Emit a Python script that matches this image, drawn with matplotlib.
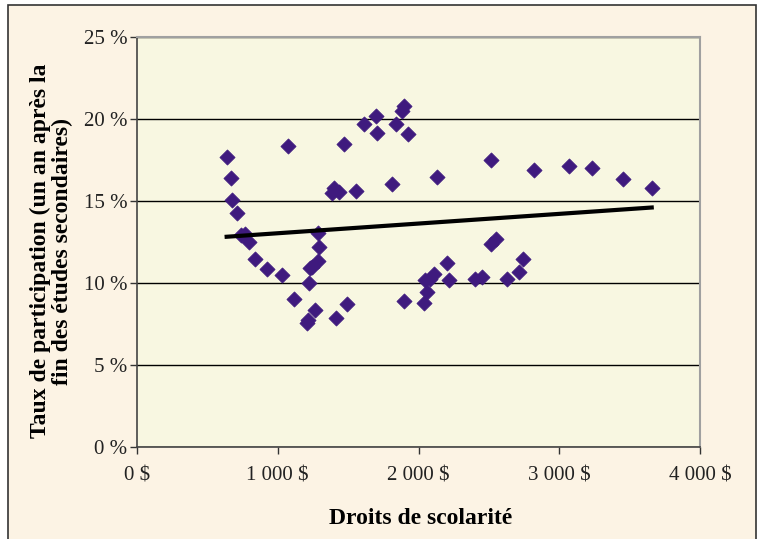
import numpy as np
import matplotlib.pyplot as plt
from matplotlib.patches import Rectangle
from matplotlib.ticker import FuncFormatter

# tuition fees ($) and participation rate (%)
droits = [637, 670, 675, 708, 739, 767, 796, 838, 922, 1028,
          1071, 1118, 1206, 1218, 1223, 1230, 1242, 1266, 1289, 1294,
          1289, 1387, 1401, 1415, 1434, 1474, 1491, 1553, 1610, 1695,
          1705, 1809, 1843, 1883, 1900, 1900, 1928, 2037, 2049, 2061,
          2080, 2108, 2128, 2204, 2215, 2400, 2448, 2514, 2517, 2553,
          2631, 2716, 2740, 2818, 3070, 3231, 3452, 3657]
taux = [17.70, 16.38, 15.06, 14.29, 12.93, 12.97, 12.48, 11.46, 10.85, 10.49,
        18.35, 9.04, 7.58, 7.74, 10.02, 10.90, 10.99, 8.35, 13.03, 12.21,
        11.36, 15.47, 15.77, 7.85, 15.57, 18.49, 8.72, 15.59, 19.68, 20.20,
        19.13, 16.04, 19.70, 20.49, 20.79, 8.92, 19.10, 8.80, 10.18, 9.47,
        10.22, 10.55, 16.48, 11.20, 10.18, 10.26, 10.35, 17.48, 12.38, 12.66,
        10.26, 10.69, 11.48, 16.87, 17.13, 17.03, 16.36, 15.81]

x_ticks = [0, 1000, 2000, 3000, 4000]
y_ticks = [0, 5, 10, 15, 20, 25]

x = np.array(droits)
y = np.array(taux)
# linear trend line, as in the spreadsheet
slope, intercept = np.polyfit(x, y, 1)
xl = np.array([x.min(), x.max()])

plt.rcParams['font.family'] = ['Liberation Serif', 'DejaVu Serif']

fig = plt.figure(figsize=(7.58, 5.39), dpi=100)
fig.patch.set_facecolor('white')
# beige frame behind the chart
fig.patches.append(Rectangle((8 / 758, -0.01), 748 / 758, 1 - 5 / 539 + 0.01,
                             transform=fig.transFigure, facecolor='#fcf3e4',
                             edgecolor='#333333', linewidth=1.2, zorder=-1))

ax = fig.add_axes([137 / 758, 1 - 447 / 539, 563 / 758, 410 / 539])
ax.set_zorder(2)
ax.set_facecolor('#f8f7e1')

ax.scatter(x, y, marker='D', s=60, color='#3f1a7e', edgecolors='#3f1a7e',
           linewidths=0.5, zorder=3)
ax.plot(xl, slope * xl + intercept, color='black', linewidth=3, zorder=4)

ax.set_xlim(0, 4000)
ax.set_ylim(0, 25)
ax.set_xticks(x_ticks)
ax.set_yticks(y_ticks)
ax.xaxis.set_major_formatter(FuncFormatter(lambda v, p: '{:,.0f} $'.format(v).replace(',', ' ')))
ax.yaxis.set_major_formatter(FuncFormatter(lambda v, p: '{:.0f} %'.format(v)))
ax.tick_params(axis='both', direction='out', length=5, width=1, colors='#333333',
               labelsize=15, labelcolor='#222222')
ax.tick_params(axis='x', pad=9)
ax.tick_params(axis='y', pad=2)

ax.grid(axis='y', color='black', linewidth=1)
ax.set_axisbelow(True)
for side in ['left', 'bottom']:
    ax.spines[side].set_color('#444444')
    ax.spines[side].set_linewidth(1.2)
for side in ['top', 'right']:
    ax.spines[side].set_color('#a0a0a0')
    ax.spines[side].set_linewidth(1.5)

ax.set_xlabel('Droits de scolarité', fontsize=17, fontweight='bold')
ax.xaxis.set_label_coords(0.503, -0.148)
ax.set_ylabel('Taux de participation (un an après la\nfin des études secondaires)',
              fontsize=17, fontweight='bold', linespacing=1.08)
ax.yaxis.set_label_coords(-0.113, 0.478)

fig.savefig('out.png', dpi=100, facecolor=fig.get_facecolor())
